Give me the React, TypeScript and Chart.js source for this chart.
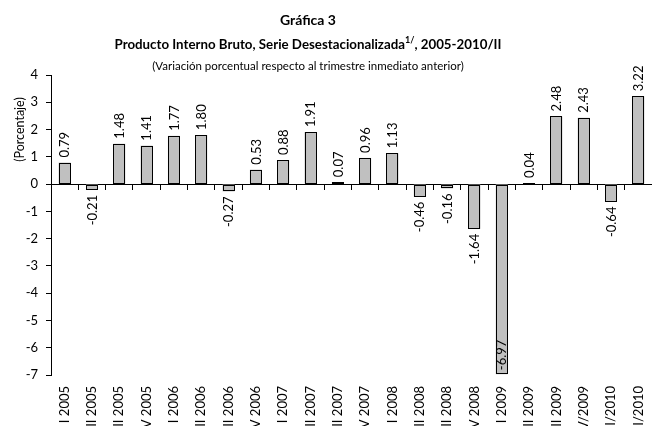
import React, { useEffect, useRef } from "react";
import { Chart, registerables } from "chart.js";

Chart.register(...registerables);

const categories: string[] = [
  "I 2005", "II 2005", "III 2005", "IV 2005",
  "I 2006", "II 2006", "III 2006", "IV 2006",
  "I 2007", "II 2007", "III 2007", "IV 2007",
  "I 2008", "II 2008", "III 2008", "IV 2008",
  "I 2009", "II 2009", "III 2009", "IV/2009",
  "I/2010", "II/2010",
];

const values: number[] = [
  0.79, -0.21, 1.48, 1.41,
  1.77, 1.8, -0.27, 0.53,
  0.88, 1.91, 0.07, 0.96,
  1.13, -0.46, -0.16, -1.64,
  -6.97, 0.04, 2.48, 2.43,
  -0.64, 3.22,
];

const yTicks: number[] = [4, 3, 2, 1, 0, -1, -2, -3, -4, -5, -6, -7];

const titleLine1 = "Gráfica 3";
const titleLine2a = "Producto Interno Bruto, Serie Desestacionalizada";
const titleSup = "1/";
const titleLine2b = ", 2005-2010/II";
const titleLine3 = "(Variación porcentual respecto al trimestre inmediato anterior)";
const yAxisTitle = "(Porcentaje)";

const FONT = "Lato, 'Noto Sans', sans-serif";

const titlePlugin = {
  id: "titles",
  afterDraw(chart: any) {
    const ctx = chart.ctx;
    const cx = 308;
    ctx.save();
    ctx.fillStyle = "#000";
    ctx.textBaseline = "middle";
    ctx.textAlign = "center";
    ctx.font = `bold 14px ${FONT}`;
    ctx.fillText(titleLine1, cx, 20);

    ctx.font = `bold 13.3px ${FONT}`;
    const wA = ctx.measureText(titleLine2a).width;
    const wB = ctx.measureText(titleLine2b).width;
    ctx.font = `bold 9px ${FONT}`;
    const wS = ctx.measureText(titleSup).width;
    const total = wA + wS + wB;
    let x = cx - total / 2;
    ctx.textAlign = "left";
    ctx.font = `bold 13.3px ${FONT}`;
    ctx.fillText(titleLine2a, x, 45);
    x += wA;
    ctx.font = `bold 9px ${FONT}`;
    ctx.fillText(titleSup, x, 40);
    x += wS;
    ctx.font = `bold 13.3px ${FONT}`;
    ctx.fillText(titleLine2b, x, 45);

    ctx.textAlign = "center";
    ctx.font = `11.5px ${FONT}`;
    ctx.fillText(titleLine3, cx, 66);

    const yScale = chart.scales.y;
    ctx.translate(20, yScale.getPixelForValue(2));
    ctx.rotate(-Math.PI / 2);
    ctx.font = `12.5px ${FONT}`;
    ctx.fillText(yAxisTitle, 0, 0);
    ctx.restore();
  },
};

const outlinePlugin = {
  id: "crispOutline",
  afterDatasetsDraw(chart: any) {
    const ctx = chart.ctx;
    const meta = chart.getDatasetMeta(0);
    ctx.save();
    ctx.strokeStyle = "#000";
    ctx.lineWidth = 1;
    meta.data.forEach((el: any) => {
      const left = Math.round(el.x - el.width / 2);
      const right = Math.round(el.x + el.width / 2);
      const top = Math.round(Math.min(el.y, el.base));
      let bottom = Math.round(Math.max(el.y, el.base));
      if (bottom - top < 2) bottom = top + 2;
      ctx.fillStyle = "#C0C0C0";
      ctx.fillRect(left, top, right - left, bottom - top);
      ctx.strokeRect(left + 0.5, top + 0.5, right - left - 1, bottom - top - 1);
    });
    ctx.restore();
  },
};

const labelPlugin = {
  id: "barLabels",
  afterDatasetsDraw(chart: any) {
    const ctx = chart.ctx;
    const meta = chart.getDatasetMeta(0);
    const area = chart.chartArea;
    ctx.save();
    ctx.fillStyle = "#000";
    ctx.font = `13px ${FONT}`;
    ctx.textBaseline = "middle";
    meta.data.forEach((el: any, i: number) => {
      const v = values[i];
      const txt = v.toFixed(2);
      const w = ctx.measureText(txt).width;
      ctx.save();
      if (v >= 0) {
        ctx.translate(el.x + 0.5, el.y - 5);
        ctx.rotate(-Math.PI / 2);
        ctx.textAlign = "left";
      } else if (el.y + 5 + w > area.bottom) {
        ctx.translate(el.x + 0.5, el.y - 4);
        ctx.rotate(-Math.PI / 2);
        ctx.textAlign = "left";
      } else {
        ctx.translate(el.x + 0.5, el.y + 5);
        ctx.rotate(-Math.PI / 2);
        ctx.textAlign = "right";
      }
      ctx.fillText(txt, 0, 0);
      ctx.restore();
    });
    ctx.restore();
  },
};

export default function App() {
  const ref = useRef<HTMLCanvasElement | null>(null);
  useEffect(() => {
    if (!ref.current) return;
    const chart = new Chart(ref.current, {
      type: "bar",
      data: {
        labels: categories,
        datasets: [
          {
            data: values,
            backgroundColor: "#C0C0C0",
            borderColor: "#000000",
            borderWidth: 0,
            borderSkipped: false,
            barPercentage: 0.44,
            categoryPercentage: 1,
          },
        ],
      },
      options: {
        animation: false,
        responsive: true,
        maintainAspectRatio: false,
        layout: { padding: { top: 75, right: -3, left: 0, bottom: 0 } },
        plugins: {
          legend: { display: false },
          tooltip: { enabled: false },
          title: { display: false },
        },
        scales: {
          x: {
            type: "category",
            position: "bottom",
            grid: { display: false, drawTicks: false },
            border: { display: false },
            ticks: {
              autoSkip: false,
              maxRotation: 90,
              minRotation: 90,
              padding: 11,
              color: "#000",
              font: { family: FONT, size: 13 },
            },
            afterFit(scale: any) {
              scale.height = 426 - 75 - 300;
              scale.paddingLeft = 0;
              scale.paddingRight = 0;
            },
          },
          x2: {
            type: "category",
            axis: "x",
            position: { y: 0 },
            labels: categories,
            offset: true,
            grid: {
              offset: true,
              drawOnChartArea: false,
              drawTicks: true,
              tickLength: 5,
              color: "#000",
              lineWidth: 1,
            },
            border: { display: true, color: "#000", width: 1 },
            ticks: { display: false },
          },
          y: {
            min: -7,
            max: 4,
            afterBuildTicks(scale: any) {
              scale.ticks = yTicks.map((v) => ({ value: v }));
            },
            grid: {
              drawOnChartArea: false,
              drawTicks: true,
              tickLength: 5,
              color: "#000",
            },
            border: { display: true, color: "#000", width: 1 },
            ticks: {
              padding: 8,
              color: "#000",
              font: { family: FONT, size: 13 },
            },
            afterFit(scale: any) {
              scale.width = 51;
            },
          },
        },
      },
      plugins: [titlePlugin, outlinePlugin, labelPlugin],
    });
    return () => chart.destroy();
  }, []);
  return (
    <div style={{ position: "fixed", left: 0, top: 0, width: 652, height: 426, overflow: "hidden", background: "#fff" }}>
      <canvas ref={ref} />
    </div>
  );
}
